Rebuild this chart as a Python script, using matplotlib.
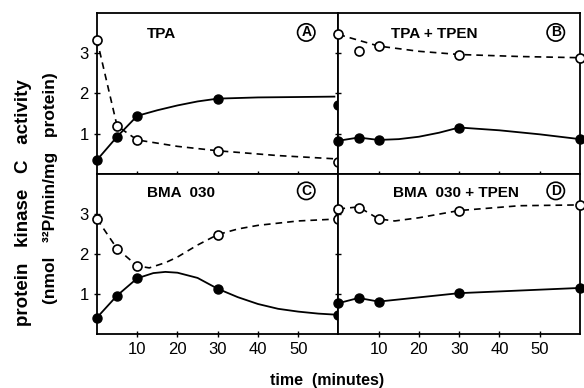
import matplotlib
matplotlib.use('Agg')
import matplotlib.pyplot as plt
import numpy as np

plt.rcParams.update({'font.family': ['Liberation Sans', 'DejaVu Sans']})
plt.rcParams.update({'font.size': 12})

# measured time points (minutes)
t = [0, 5, 10, 30, 60]

# panel A: TPA
A_filled = [0.34, 0.92, 1.44, 1.87, 1.71]
A_open = [3.34, 1.19, 0.84, 0.57, 0.30]
# panel B: TPA + TPEN
B_filled = [0.82, 0.90, 0.84, 1.15, 0.86]
B_open = [3.47, 3.05, 3.18, 2.97, 2.89]
# panel C: BMA 030
C_filled = [0.41, 0.96, 1.39, 1.13, 0.48]
C_open = [2.87, 2.13, 1.70, 2.48, 2.87]
# panel D: BMA 030 + TPEN
D_filled = [0.77, 0.90, 0.81, 1.02, 1.15]
D_open = [3.12, 3.15, 2.87, 3.08, 3.22]

# hand drawn curves
A_fitf_t = [0, 5, 10, 15, 20, 25, 30, 40, 50, 59]
A_fit_f = [0.34, 0.92, 1.44, 1.58, 1.70, 1.80, 1.87, 1.90, 1.91, 1.92]
A_fito_t = [0, 5, 10, 20, 30, 45, 59]
A_fit_o = [3.34, 1.19, 0.84, 0.68, 0.57, 0.45, 0.37]
B_fito_t = [0, 10, 20, 30, 45, 60]
B_fit_o = [3.47, 3.18, 3.05, 2.97, 2.92, 2.89]
B_fitf_t = [0, 5, 10, 15, 20, 25, 30, 40, 50, 60]
B_fit_f = [0.82, 0.90, 0.84, 0.86, 0.92, 1.02, 1.15, 1.08, 0.98, 0.86]
C_fito_t = [0, 5, 10, 13, 17, 20, 25, 30, 35, 40, 50, 60]
C_fit_o = [2.87, 2.13, 1.70, 1.65, 1.78, 1.92, 2.22, 2.48, 2.62, 2.71, 2.82, 2.87]
C_fitf_t = [0, 5, 10, 14, 17, 20, 25, 30, 35, 40, 45, 50, 55, 60]
C_fit_f = [0.41, 0.96, 1.39, 1.52, 1.55, 1.53, 1.40, 1.13, 0.92, 0.75, 0.63, 0.56, 0.51, 0.48]
D_fito_t = [0, 5, 10, 14, 20, 30, 45, 60]
D_fit_o = [3.12, 3.17, 2.87, 2.82, 2.90, 3.08, 3.20, 3.22]
D_fitf_t = [0, 5, 10, 30, 60]
D_fit_f = [0.77, 0.90, 0.81, 1.02, 1.15]

titles = ['TPA', 'TPA + TPEN', 'BMA  030', 'BMA  030 + TPEN']
letters = ['A', 'B', 'C', 'D']
title_x = [16, 23.7, 21, 29.3]

panels = [
    (A_filled, A_open, A_fitf_t, A_fit_f, A_fito_t, A_fit_o),
    (B_filled, B_open, B_fitf_t, B_fit_f, B_fito_t, B_fit_o),
    (C_filled, C_open, C_fitf_t, C_fit_f, C_fito_t, C_fit_o),
    (D_filled, D_open, D_fitf_t, D_fit_f, D_fito_t, D_fit_o),
]

fig, axs = plt.subplots(2, 2, figsize=(5.84, 3.88), dpi=100, sharex=True, sharey=True)
plt.subplots_adjust(left=0.166, right=0.993, bottom=0.139, top=0.966, wspace=0, hspace=0)

for i, ax in enumerate(axs.flat):
    yf, yo, tf, ff, to, fo = panels[i]
    ax.plot(tf, ff, '-', color='k', lw=1.3, clip_on=False)
    ax.plot(to, fo, '--', color='k', lw=1.2, dashes=(4, 3), clip_on=False)
    ax.plot(t, yf, 'o', color='k', ms=6.5, clip_on=False, zorder=5)
    ax.plot(t, yo, 'o', mfc='white', mec='k', mew=1.2, ms=6.5, clip_on=False, zorder=5)
    ax.set_xlim(0, 60)
    ax.set_ylim(0, 4)
    ax.set_xticks([10, 20, 30, 40, 50])
    ax.set_yticks([1, 2, 3])
    ax.tick_params(direction='inout', length=5, width=1, labelsize=12)
    for s in ax.spines.values():
        s.set_linewidth(1.3)
    ytxt = 3.47 if i < 2 else 3.52
    ax.text(title_x[i], ytxt, titles[i], ha='center', va='center', fontsize=11, fontweight='bold')
    lx = 52 if i % 2 == 0 else 54
    ax.text(lx, ytxt + 0.05, letters[i], ha='center', va='center', fontsize=10, fontweight='bold',
            bbox=dict(boxstyle='circle,pad=0.12', fc='white', ec='k', lw=1.2))

fig.text(0.04, 0.479, 'protein   kinase   C   activity', rotation=90, ha='center', va='center',
         fontsize=13.5, fontweight='bold')
fig.text(0.086, 0.515, '(nmol   ³²P/min/mg   protein)', rotation=90, ha='center', va='center',
         fontsize=12.5, fontweight='bold')
fig.text(0.56, 0.02, 'time  (minutes)', ha='center', va='center', fontsize=11.5, fontweight='bold')

plt.savefig('out.png', dpi=100)
